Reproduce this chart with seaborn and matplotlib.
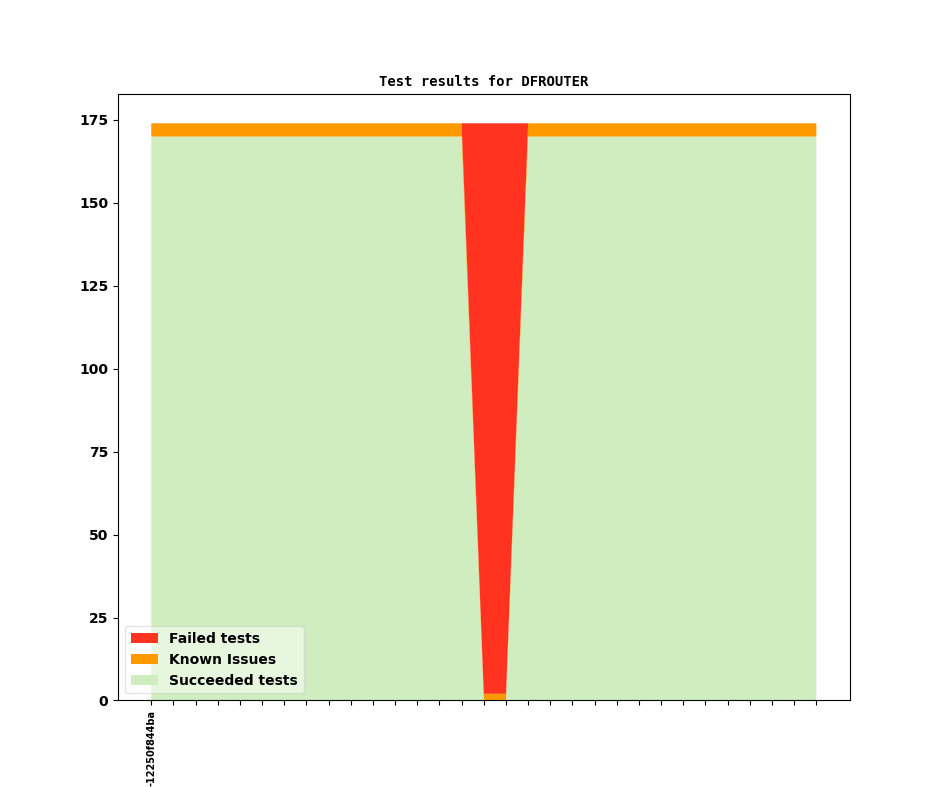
import matplotlib
matplotlib.use("Agg")
import matplotlib.pyplot as plt
import seaborn as sns
import numpy as np

# one entry per run, 31 runs; only the first commit label is shown
commits = ["-12250f844ba"] + [""] * 30
succeeded = [170] * 15 + [0, 0] + [170] * 14
known = [4] * 15 + [2, 2] + [4] * 14
failed = [0] * 15 + [172, 172] + [0] * 14

colors = {"Succeeded tests": "#cfedbf", "Known Issues": "#ff9900", "Failed tests": "#ff331f"}

sns.set_style("ticks", {
    "axes.edgecolor": "black",
    "text.color": "black",
    "xtick.color": "black",
    "ytick.color": "black",
    "axes.labelcolor": "black",
    "xtick.direction": "out",
    "ytick.direction": "out",
    "patch.edgecolor": "black",
    "patch.force_edgecolor": False,
})
plt.rcParams["font.family"] = ["DejaVu Sans"]
plt.rcParams["xtick.major.size"] = 3.5
plt.rcParams["ytick.major.size"] = 3.5

fig, ax = plt.subplots(figsize=(9.44, 7.87), dpi=100)
fig.subplots_adjust(left=0.125, right=0.9, top=0.88, bottom=0.11)

x = np.arange(len(commits))
ax.stackplot(x, succeeded, known, failed,
             labels=["Succeeded tests", "Known Issues", "Failed tests"],
             colors=[colors["Succeeded tests"], colors["Known Issues"], colors["Failed tests"]])

ax.set_xticks(x)
ax.set_xticklabels(commits, rotation=90, fontsize=7, fontweight="bold")
for lbl in ax.get_yticklabels():
    lbl.set_fontweight("bold")
ax.tick_params(axis="y", labelsize=10)
ax.set_title("Test results for DFROUTER", fontsize=10, fontweight="bold",
             family="DejaVu Sans Mono")

handles, labels = ax.get_legend_handles_labels()
ax.legend(handles[::-1], labels[::-1], loc="lower left", framealpha=0.5,
          prop={"weight": "bold", "size": 10})

fig.savefig("out.png", dpi=100)
